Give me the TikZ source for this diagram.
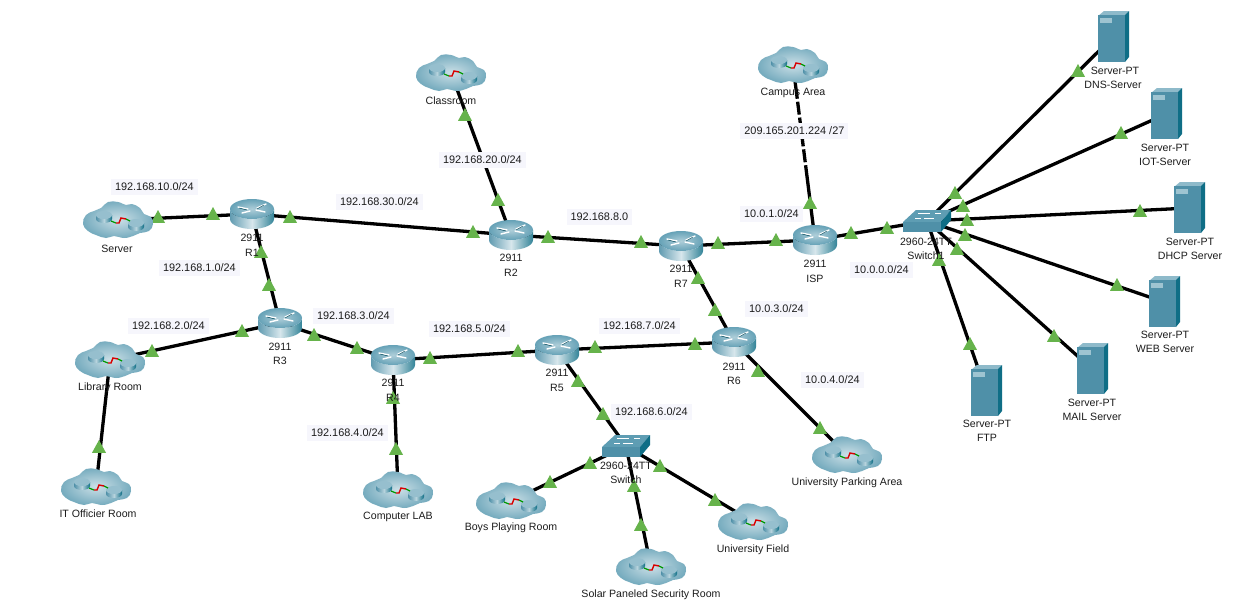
\documentclass[tikz,border=0pt]{standalone}
\usepackage{fontspec}
\setmainfont{Liberation Sans}
\definecolor{tri}{HTML}{66B34B}
\definecolor{netbg}{HTML}{F6F6FC}
\definecolor{txt}{HTML}{1C1C1C}
\definecolor{swtop}{HTML}{5E9DB3}
\definecolor{swfront}{HTML}{4F90A8}
\definecolor{swside}{HTML}{0F6E86}
\tikzset{
  x=1pt,y=-1pt,
  devlabel/.style={font=\fontsize{10.6}{12}\selectfont,text=txt,inner sep=0pt,align=center,yshift=-1.2pt},
  netlabel/.style={font=\fontsize{10.9}{12}\selectfont,text=txt,fill=netbg,inner sep=4pt,yshift=-0.8pt,xshift=0.4pt},
  dev/.style={coordinate},
  link/.style={line width=3.3pt,black},
  router/.pic={
    \path[left color=swfront!90,right color=swside!85,middle color=white!75!swtop]
      (-22,-5) -- (-22,5) arc (180:0:22 and 10) -- (22,-5) arc (0:180:22 and 10) -- cycle;
    \shade[inner color=white!50!swtop,outer color=swtop!95] (0,-5) ellipse (22 and 10);
    \draw[white,line width=1.4pt,line cap=round] (-14,-7)--(-4,-5) (14,-10)--(5,-6) (-10,-1)--(-2,-3) (13,-2)--(4,-4);
    \draw[swside!70!black,line width=.5pt,line cap=round] (-13,-6)--(-5,-4) (5,-5)--(12,-9);
  },
  cloudicon/.pic={
    \shade[inner color=white!68!swtop,outer color=swtop!85!white]
      plot[smooth cycle,tension=.75] coordinates {(-35,4)(-32,-5)(-24,-9)(-17,-12)(-10,-18)(0,-18)(8,-15)(14,-16)(22,-12)(26,-6)(33,-3)(35,4)(31,11)(22,13)(15,16)(6,18)(-4,16)(-12,18)(-22,15)(-30,11)};
    \foreach \cx/\cy in {-14/-3,18/5}{
      \begin{scope}[shift={(\cx,\cy)}]
        \path[left color=swfront,right color=swside,middle color=white!55!swtop] (-8,-2)--(-8,2) arc (180:0:8 and 4)--(8,-2) arc (0:180:8 and 4)--cycle;
        \fill[white!35!swtop] (0,-2) ellipse (8 and 4);
      \end{scope}}
    \draw[green!60!black,line width=1.2pt] (-7,1)--(-2,3) (8,-1)--(12,1);
    \draw[red!85!black,line width=1.4pt] (-2,3)--(1,3)--(3,-2)--(8,-1);
  },
  switchicon/.pic={
    \fill[swtop] (-24,1)--(-11,-11)--(24,-11)--(14,1)--cycle;
    \fill[swfront] (-24,1)--(14,1)--(14,11)--(-24,11)--cycle;
    \fill[swside] (14,1)--(24,-11)--(24,-1)--(14,11)--cycle;
    \draw[white,line width=.8pt] (-9,-8)--(3,-8) (8,-8)--(14,-8) (-12,-3)--(-6,-3) (-3,-3)--(7,-3);
  },
  servericon/.pic={
    \fill[white!30!swtop] (-15,-21)--(-9,-26)--(16,-26)--(12,-21)--cycle;
    \fill[swfront] (-15,-22)--(12,-22)--(12,25)--(-15,25)--cycle;
    \fill[swside] (12,-22)--(16,-26)--(16,20)--(12,25)--cycle;
    \fill[white!40!swtop] (-13,-19)--(-1,-19)--(-1,-14)--(-13,-14)--cycle;
  },
  tmark/.pic={\fill[tri] (-7,5.8)--(7,5.8)--(0,-7)--cycle;}
}
\begin{document}
\begin{tikzpicture}
\useasboundingbox (0,0) rectangle (1243,603);
\fill[white] (0,0) rectangle (1243,603);
% anchors of devices
\node[dev] (srv) at (118,220) {};
\node[dev] (r1) at (252,214) {};
\node[dev] (r2) at (511,235) {};
\node[dev] (r7) at (681,246) {};
\node[dev] (isp) at (815,240) {};
\node[dev] (sw1) at (927,221) {};
\node[dev] (r3) at (280,323) {};
\node[dev] (r4) at (393,360) {};
\node[dev] (r5) at (557,350) {};
\node[dev] (r6) at (734,342) {};
\node[dev] (sw) at (626,446) {};
\node[dev] (cls) at (451,73) {};
\node[dev] (cmp) at (793,65) {};
\node[dev] (lib) at (110,360) {};
\node[dev] (itr) at (96,487) {};
\node[dev] (lab) at (398,490) {};
\node[dev] (boy) at (511,501) {};
\node[dev] (sol) at (651,567) {};
\node[dev] (fld) at (753,522) {};
\node[dev] (prk) at (847,455) {};
\node[dev] (dns) at (1113,37) {};
\node[dev] (iot) at (1166,114) {};
\node[dev] (dhc) at (1189,208) {};
\node[dev] (web) at (1164,302) {};
\node[dev] (mai) at (1092,369) {};
\node[dev] (ftp) at (986,391) {};
% links
\foreach \a/\b in {srv/r1,r1/r2,r2/r7,r7/isp,isp/sw1,r2/cls,r1/r3,r3/lib,lib/itr,r3/r4,r4/r5,r5/r6,r7/r6,r6/prk,r5/sw,r4/lab,sw/boy,sw/sol,sw/fld,sw1/dns,sw1/iot,sw1/dhc,sw1/web,sw1/mai,sw1/ftp}
 {\draw[link] (\a) -- (\b);}
\draw[link,dash pattern=on 34pt off 3pt on 13pt off 3pt on 13pt off 3pt on 13pt off 3pt on 13pt off 3pt on 40pt off 0pt] (cmp) -- (isp);
% network labels
\foreach \n/\x/\y/\t in {
 n1/154/186/192.168.10.0\slash 24,n2/379/201/192.168.30.0\slash 24,n3/482/159/192.168.20.0\slash 24,
 n4/599/216/192.168.8.0,n5/771/213/10.0.1.0\slash 24,n6/794/130/209.165.201.224 \slash 27,
 n7/199/267/192.168.1.0\slash 24,n8/168/325/192.168.2.0\slash 24,n9/353/315/192.168.3.0\slash 24,
 n10/469/328/192.168.5.0\slash 24,n11/639/325/192.168.7.0\slash 24,n12/776/308/10.0.3.0\slash 24,
 n13/832/379/10.0.4.0\slash 24,n14/881/269/10.0.0.0\slash 24,n15/347/432/192.168.4.0\slash 24,
 n16/651/411/192.168.6.0\slash 24}
 {\node[netlabel] (\n) at (\x,\y) {\t};}
% link-end marks
\foreach \x/\y in {158/217,213/214,290/217,473/232,548/237,641/242,718/243,776/240,851/233,887/228,
 810/203,498/200,465/115,261/252,269/285,242/331,152/351,99/447,314/335,357/348,430/358,518/351,
 595/347,695/344,698/278,715/310,758/371,820/428,578/381,603/414,393/398,396/449,
 590/463,550/482,634/486,660/466,715/500,641/525,
 955/193,963/206,967/220,965/235,957/249,939/260,1078/71,1121/133,1140/211,1117/285,1054/336,970/344}
 {\pic at (\x,\y) {tmark};}
% device labels
\foreach \n/\x/\y/\t in {
 l1/252/237/2911,l2/252/252/R1,l3/117/248/Server,l4/511/257/2911,l5/511/272/R2,
 l6/681/268/2911,l7/681/283/R7,l8/815/263/2911,l9/815/278/ISP,l10/926/241/2960-24TT,l11/926/255/Switch1,
 l12/280/346/2911,l13/280/360/R3,l14/393/382/2911,l15/393/397/R4,l16/557/372/2911,l17/557/387/R5,
 l18/734/366/2911,l19/734/380/R6,l20/626/465/2960-24TT,l21/626/479/Switch,
 l22/451/100/Classroom,l23/793/92/Campus Area,l24/110/387/Library Room,l25/98/513/IT Officier Room,
 l26/398/516/Computer LAB,l27/511/527/Boys Playing Room,l28/651/594/Solar Paneled Security Room,
 l29/753/549/University Field,l30/847/482/University Parking Area,
 l31/1115/70/Server-PT,l32/1113/84/DNS-Server,l33/1165/147/Server-PT,l34/1165/161/IOT-Server,
 l35/1190/241/Server-PT,l36/1190/255/DHCP Server,l37/1165/334/Server-PT,l38/1165/348/WEB Server,
 l39/1092/402/Server-PT,l40/1092/416/MAIL Server,l41/987/423/Server-PT,l42/987/437/FTP}
 {\node[devlabel] (\n) at (\x,\y) {\t};}
% icons
\foreach \c in {r1,r2,r7,isp,r3,r4,r5,r6} {\pic at (\c) {router};}
\foreach \c in {srv,cls,cmp,lib,itr,lab,boy,sol,fld,prk} {\pic at (\c) {cloudicon};}
\foreach \c in {sw1,sw} {\pic at (\c) {switchicon};}
\foreach \c in {dns,iot,dhc,web,mai,ftp} {\pic at (\c) {servericon};}
\end{tikzpicture}
\end{document}
